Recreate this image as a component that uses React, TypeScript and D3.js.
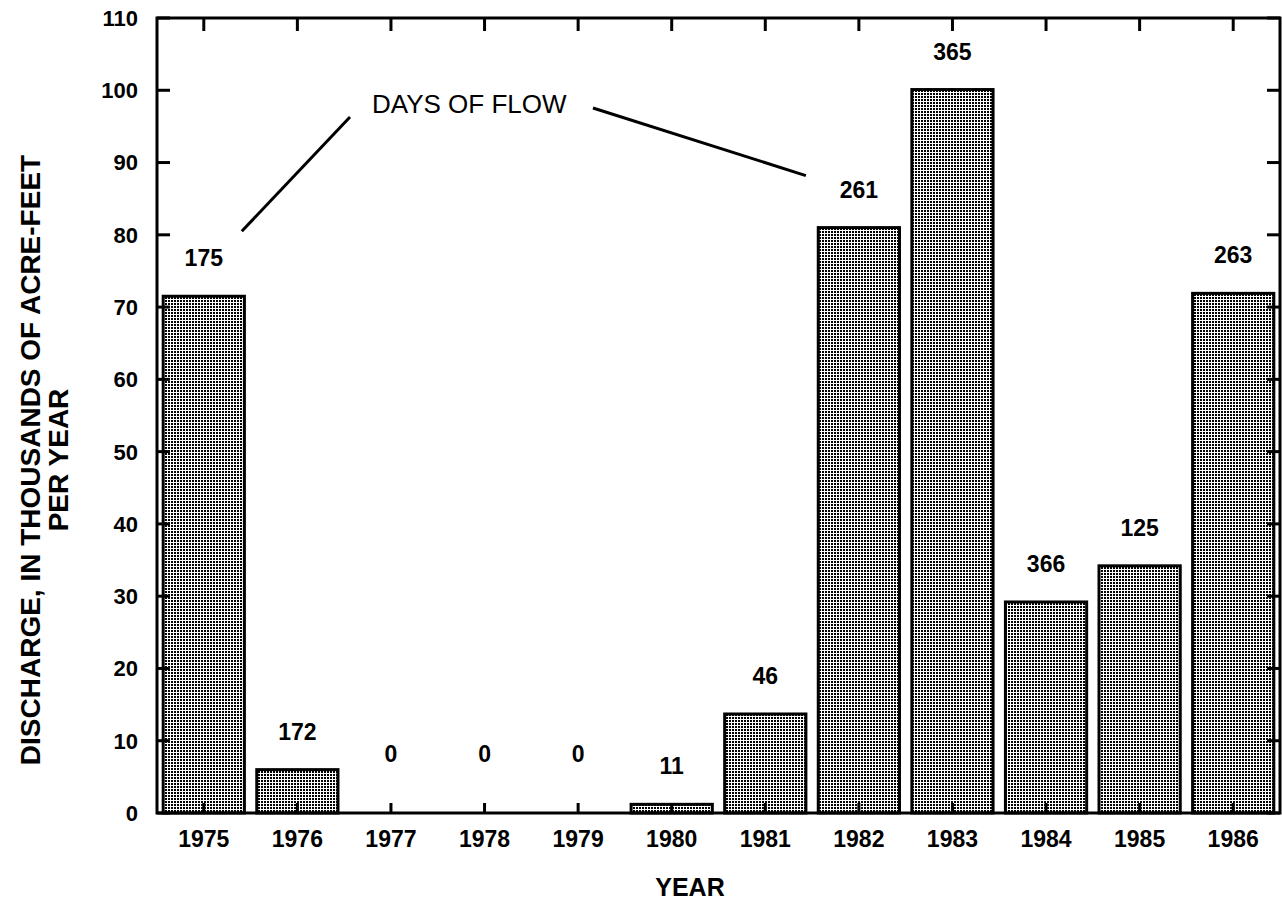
import React from 'react';
import * as d3 from 'd3';

// annual discharge, thousands of acre-feet
const years = ['1975', '1976', '1977', '1978', '1979', '1980', '1981', '1982', '1983', '1984', '1985', '1986'];
const discharge = [71.5, 6.0, 0, 0, 0, 1.2, 13.7, 81.0, 100.1, 29.2, 34.2, 71.9];
const daysOfFlow = [175, 172, 0, 0, 0, 11, 46, 261, 365, 366, 125, 263];
const yTicks = [0, 10, 20, 30, 40, 50, 60, 70, 80, 90, 100, 110];

const width = 1282;
const height = 909;
const margin = { top: 18, right: 2, bottom: 96, left: 157 };
const font = '"Liberation Sans", Arial, Helvetica, sans-serif';

const App = () => {
  const x = d3.scaleBand()
    .domain(years)
    .range([margin.left, width - margin.right])
    .paddingInner(0.1)
    .paddingOuter(0.05);

  const y = d3.scaleLinear()
    .domain([0, 110])
    .range([height - margin.bottom, margin.top]);

  const x0 = margin.left;
  const x1 = width - margin.right;
  const y0 = y(0);
  const y1 = y(110);
  const cx = (d: string) => (x(d) as number) + x.bandwidth() / 2;
  const tick = 13;

  return (
    <svg width={width} height={height} style={{ position: 'absolute', left: 0, top: 0, background: '#fff' }}>
      <defs>
        <pattern id="dots" width="3" height="3" patternUnits="userSpaceOnUse">
          <rect width="3" height="3" fill="#fff" />
          <rect x="0" y="0" width="2" height="2" fill="#000" />
        </pattern>
      </defs>

      {/* bars */}
      {years.map((d, i) => discharge[i] > 0 && (
        <rect
          key={d}
          x={(x(d) as number) + 1.5}
          y={y(discharge[i])}
          width={x.bandwidth() - 3}
          height={y0 - y(discharge[i])}
          fill="url(#dots)"
          stroke="#000"
          strokeWidth={3}
        />
      ))}

      {/* frame */}
      <rect x={x0} y={y1} width={x1 - x0} height={y0 - y1} fill="none" stroke="#000" strokeWidth={3} />

      {/* y ticks both sides */}
      {yTicks.map(t => (
        <g key={t}>
          <line x1={x0} x2={x0 + tick} y1={y(t)} y2={y(t)} stroke="#000" strokeWidth={3} />
          <line x1={x1} x2={x1 - tick} y1={y(t)} y2={y(t)} stroke="#000" strokeWidth={3} />
          <text x={x0 - 19} y={y(t)} dy="0.36em" textAnchor="end" fontFamily={font} fontWeight="bold" fontSize={22}>{t}</text>
        </g>
      ))}

      {/* x ticks top and bottom */}
      {years.map(d => (
        <g key={d}>
          <line x1={cx(d)} x2={cx(d)} y1={y1} y2={y1 + tick} stroke="#000" strokeWidth={3} />
          <line x1={cx(d)} x2={cx(d)} y1={y0} y2={y0 - 10} stroke="#000" strokeWidth={3} />
          <text x={cx(d)} y={y0 + 34} textAnchor="middle" fontFamily={font} fontWeight="bold" fontSize={23}>{d}</text>
        </g>
      ))}

      {/* days of flow labels */}
      {years.map((d, i) => (
        <text
          key={d}
          x={cx(d)}
          y={discharge[i] > 0 ? y(discharge[i]) - 30 : y0 - 51}
          textAnchor="middle"
          fontFamily={font}
          fontWeight="bold"
          fontSize={23}
        >{daysOfFlow[i]}</text>
      ))}

      {/* annotation */}
      <text x={372} y={113} fontFamily={font} fontSize={26}>DAYS OF FLOW</text>
      <line x1={cx('1975') + 38} y1={y(discharge[0]) - 65} x2={350} y2={117} stroke="#000" strokeWidth={3} />
      <line x1={593} y1={108} x2={cx('1982') - 53} y2={y(discharge[7]) - 52} stroke="#000" strokeWidth={3} />

      {/* axis titles */}
      <text x={690} y={896} textAnchor="middle" fontFamily={font} fontWeight="bold" fontSize={25}>YEAR</text>
      <g transform="translate(30,460) rotate(-90)">
        <text x={0} y={0} dy="0.36em" textAnchor="middle" fontFamily={font} fontWeight="bold" fontSize={28}>
          DISCHARGE, IN THOUSANDS OF ACRE-FEET
        </text>
        <text x={0} y={28} dy="0.36em" textAnchor="middle" fontFamily={font} fontWeight="bold" fontSize={28}>
          PER YEAR
        </text>
      </g>
    </svg>
  );
};

export default App;
